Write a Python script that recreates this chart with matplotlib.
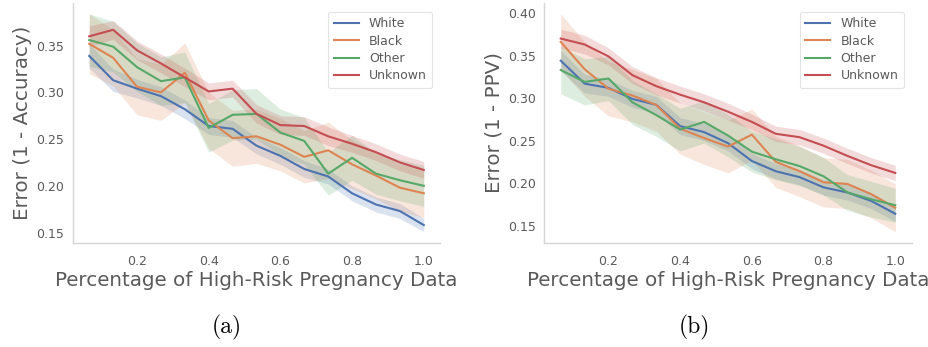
import numpy as np
import matplotlib.pyplot as plt

# fraction of high-risk pregnancy data used (15 steps)
frac = np.arange(1, 16) / 15

groups = ["White", "Black", "Other", "Unknown"]
colors = ["#4C72B0", "#DD8452", "#55A868", "#C44E52"]

# (a) error = 1 - accuracy
acc_white = [0.339, 0.313, 0.304, 0.296, 0.282, 0.264, 0.261, 0.243, 0.232, 0.218, 0.210, 0.192, 0.180, 0.173, 0.158]
acc_black = [0.352, 0.337, 0.306, 0.300, 0.321, 0.270, 0.251, 0.253, 0.244, 0.231, 0.238, 0.223, 0.211, 0.198, 0.192]
acc_other = [0.356, 0.349, 0.327, 0.312, 0.316, 0.262, 0.276, 0.277, 0.257, 0.248, 0.213, 0.230, 0.213, 0.206, 0.200]
acc_unknown = [0.360, 0.367, 0.345, 0.331, 0.316, 0.301, 0.304, 0.277, 0.265, 0.264, 0.253, 0.245, 0.236, 0.225, 0.217]

# half width of the shaded bands
acc_white_ci = [0.013, 0.012, 0.010, 0.010, 0.010, 0.009, 0.009, 0.009, 0.009, 0.009, 0.008, 0.008, 0.008, 0.008, 0.007]
acc_black_ci = [0.032, 0.030, 0.030, 0.030, 0.032, 0.030, 0.030, 0.029, 0.028, 0.028, 0.030, 0.026, 0.025, 0.025, 0.026]
acc_other_ci = [0.028, 0.027, 0.026, 0.026, 0.027, 0.026, 0.027, 0.027, 0.025, 0.025, 0.023, 0.024, 0.022, 0.022, 0.022]
acc_unknown_ci = [0.011, 0.010, 0.010, 0.010, 0.010, 0.009, 0.009, 0.010, 0.010, 0.010, 0.010, 0.009, 0.009, 0.009, 0.009]

# (b) error = 1 - PPV
ppv_white = [0.344, 0.317, 0.312, 0.299, 0.292, 0.267, 0.260, 0.247, 0.226, 0.214, 0.207, 0.195, 0.189, 0.179, 0.164]
ppv_black = [0.366, 0.334, 0.311, 0.303, 0.292, 0.264, 0.253, 0.243, 0.257, 0.225, 0.214, 0.201, 0.199, 0.187, 0.171]
ppv_other = [0.333, 0.319, 0.323, 0.295, 0.280, 0.263, 0.272, 0.256, 0.237, 0.228, 0.220, 0.208, 0.189, 0.181, 0.174]
ppv_unknown = [0.370, 0.363, 0.349, 0.327, 0.314, 0.304, 0.295, 0.284, 0.272, 0.258, 0.254, 0.244, 0.232, 0.221, 0.212]

ppv_white_ci = [0.012, 0.011, 0.010, 0.010, 0.010, 0.010, 0.010, 0.009, 0.009, 0.009, 0.009, 0.009, 0.009, 0.009, 0.009]
ppv_black_ci = [0.033, 0.032, 0.032, 0.031, 0.031, 0.030, 0.031, 0.031, 0.030, 0.030, 0.030, 0.029, 0.029, 0.028, 0.028]
ppv_other_ci = [0.028, 0.027, 0.026, 0.026, 0.025, 0.025, 0.025, 0.025, 0.024, 0.024, 0.023, 0.022, 0.021, 0.021, 0.020]
ppv_unknown_ci = [0.011, 0.011, 0.010, 0.010, 0.010, 0.010, 0.010, 0.010, 0.009, 0.009, 0.009, 0.009, 0.009, 0.009, 0.009]

acc_means = [acc_white, acc_black, acc_other, acc_unknown]
acc_cis = [acc_white_ci, acc_black_ci, acc_other_ci, acc_unknown_ci]
ppv_means = [ppv_white, ppv_black, ppv_other, ppv_unknown]
ppv_cis = [ppv_white_ci, ppv_black_ci, ppv_other_ci, ppv_unknown_ci]

text_col = "#5a5a5a"
spine_col = "#d5d5d5"

fig = plt.figure(figsize=(9.29, 3.47), dpi=100)
ax1 = fig.add_axes([72.5 / 929, 1 - 242.5 / 347, 368 / 929, 239.5 / 347])
ax2 = fig.add_axes([544 / 929, 1 - 242.5 / 347, 368 / 929, 239.5 / 347])


def draw(ax, means, cis, ylabel, yticks):
    for name, col, m, ci in zip(groups, colors, means, cis):
        m = np.array(m)
        ci = np.array(ci)
        ax.fill_between(frac, m - ci, m + ci, color=col, alpha=0.2, linewidth=0)
        ax.plot(frac, m, color=col, lw=1.5, label=name)
    ax.set_xticks([0.2, 0.4, 0.6, 0.8, 1.0])
    ax.set_yticks(yticks)
    ax.set_yticklabels([f"{t:.2f}" for t in yticks])
    ax.tick_params(length=0, labelsize=9, labelcolor=text_col)
    ax.tick_params(axis="x", pad=9)
    ax.tick_params(axis="y", pad=6)
    for s in ["top", "right"]:
        ax.spines[s].set_visible(False)
    for s in ["left", "bottom"]:
        ax.spines[s].set_color(spine_col)
        ax.spines[s].set_linewidth(1.0)
    ax.set_xlabel("Percentage of High-Risk Pregnancy Data", fontsize=14.3, color=text_col, labelpad=2)
    ax.set_ylabel(ylabel, fontsize=14.3, color=text_col, labelpad=3)
    leg = ax.legend(loc="upper right", fontsize=9, frameon=True, handlelength=2.0,
                    borderpad=0.45, labelspacing=0.35, handletextpad=0.8,
                    bbox_to_anchor=(0.995, 0.99))
    leg.get_frame().set_edgecolor("#dddddd")
    leg.get_frame().set_linewidth(0.8)
    for t in leg.get_texts():
        t.set_color(text_col)


draw(ax1, acc_means, acc_cis, "Error (1 - Accuracy)", [0.15, 0.20, 0.25, 0.30, 0.35])
draw(ax2, ppv_means, ppv_cis, "Error (1 - PPV)", [0.15, 0.20, 0.25, 0.30, 0.35, 0.40])

fig.text(227 / 929, 1 - 327 / 347, "(a)", family="cmr10", fontsize=17, ha="center", va="center")
fig.text(694 / 929, 1 - 327 / 347, "(b)", family="cmr10", fontsize=17, ha="center", va="center")

fig.savefig("out.png", dpi=100)
